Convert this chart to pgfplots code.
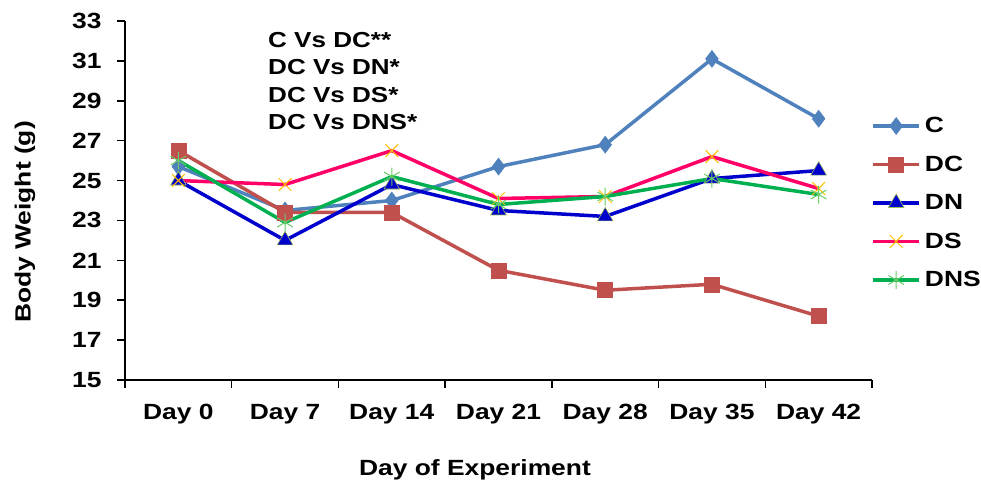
\documentclass[border=0pt]{standalone}
\usepackage{fontspec}
\setmainfont[FakeStretch=1.2]{Liberation Sans}
\usepackage{pgfplots}
\pgfplotsset{compat=1.18}
\definecolor{cC}{RGB}{79,129,189}
\definecolor{cDC}{RGB}{192,80,77}
\definecolor{cDN}{RGB}{0,0,204}
\definecolor{cDNout}{RGB}{155,187,89}
\definecolor{cDS}{RGB}{255,0,102}
\definecolor{cDSm}{RGB}{255,192,0}
\definecolor{cDNS}{RGB}{0,176,80}
\definecolor{cDNSm}{RGB}{102,204,102}
\begin{document}
\begin{tikzpicture}[x=1bp,y=1bp]
\useasboundingbox (0,0) rectangle (981,482);
\begin{axis}[
  at={(125bp,102bp)}, anchor=south west,
  scale only axis, width=747bp, height=359bp,
  xmin=0, xmax=7, ymin=15, ymax=33,
  ytick={15,17,...,33},
  xtick={0.5,1.5,2.5,3.5,4.5,5.5,6.5},
  xticklabels={Day 0,Day 7,Day 14,Day 21,Day 28,Day 35,Day 42},
  minor xtick={0,1,2,3,4,5,6,7},
  axis lines*=left,
  axis line style={line width=1.5bp, black, -},
  tick align=outside,
  major tick length=8bp, minor tick length=8bp,
  major x tick style={draw=none},
  minor x tick style={line width=1.5bp, black},
  ytick style={line width=1.5bp, black},
  /pgf/number format/assume math mode=true,
  ticklabel style={font=\fontsize{22bp}{26bp}\selectfont\bfseries},
  yticklabel style={xshift=-12bp},
  xticklabel style={yshift=-13bp},
  xlabel={Day of Experiment},
  ylabel={Body Weight (g)},
  every axis x label/.style={at={(axis description cs:0.4685,-0.25)}, anchor=center, font=\fontsize{22bp}{26bp}\selectfont\bfseries},
  every axis y label/.style={at={(axis description cs:-0.134,0.44)}, rotate=90, anchor=center, font=\fontsize{22bp}{26bp}\selectfont\bfseries},
  clip=false,
  legend style={at={(axis description cs:0.999,0.737)}, anchor=north west, draw=none, fill=none,
    font=\fontsize{22bp}{26bp}\selectfont\bfseries, row sep=17.7bp, inner sep=0pt,
    /tikz/every odd column/.style={column sep=2bp}},
  legend cell align=left,
  legend image code/.code={\draw[mark repeat=2,mark phase=2] plot coordinates {(0bp,0bp)(23bp,0bp)(46bp,0bp)};},
]
\addplot[cC, line width=3.5bp, mark=diamond*, mark size=8.5bp, mark options={fill=cC, draw=cC, line width=0.5bp}]
 coordinates {(0.5,25.7)(1.5,23.5)(2.5,24.0)(3.5,25.7)(4.5,26.8)(5.5,31.1)(6.5,28.1)};
\addlegendentry{C}
\addplot[cDC, line width=3.5bp, mark=square*, mark size=7.5bp, mark options={fill=cDC, draw=cDC, line width=0.5bp}]
 coordinates {(0.5,26.5)(1.5,23.4)(2.5,23.4)(3.5,20.5)(4.5,19.5)(5.5,19.8)(6.5,18.2)};
\addlegendentry{DC}
\addplot[cDN, line width=3.5bp, mark=triangle*, mark size=9bp, mark options={fill=cDN, draw=cDNout, line width=0.6bp}]
 coordinates {(0.5,25.0)(1.5,22.0)(2.5,24.8)(3.5,23.5)(4.5,23.2)(5.5,25.1)(6.5,25.5)};
\addlegendentry{DN}
\addplot[cDS, line width=3.5bp, mark=x, mark size=9bp, mark options={draw=cDSm, line width=1bp}]
 coordinates {(0.5,25.0)(1.5,24.8)(2.5,26.5)(3.5,24.1)(4.5,24.2)(5.5,26.2)(6.5,24.6)};
\addlegendentry{DS}
\addplot[cDNS, line width=3.5bp, mark=asterisk, mark size=9bp, mark options={draw=cDNSm, line width=1bp}]
 coordinates {(0.5,26.0)(1.5,22.9)(2.5,25.2)(3.5,23.8)(4.5,24.2)(5.5,25.1)(6.5,24.3)};
\addlegendentry{DNS}
\end{axis}
\node[anchor=north west, inner sep=0pt, align=left, font=\fontsize{21.7bp}{27.5bp}\selectfont\bfseries] at (268,450)
 {C Vs DC**\\DC Vs DN*\\DC Vs DS*\\DC Vs DNS*};
\end{tikzpicture}
\end{document}
